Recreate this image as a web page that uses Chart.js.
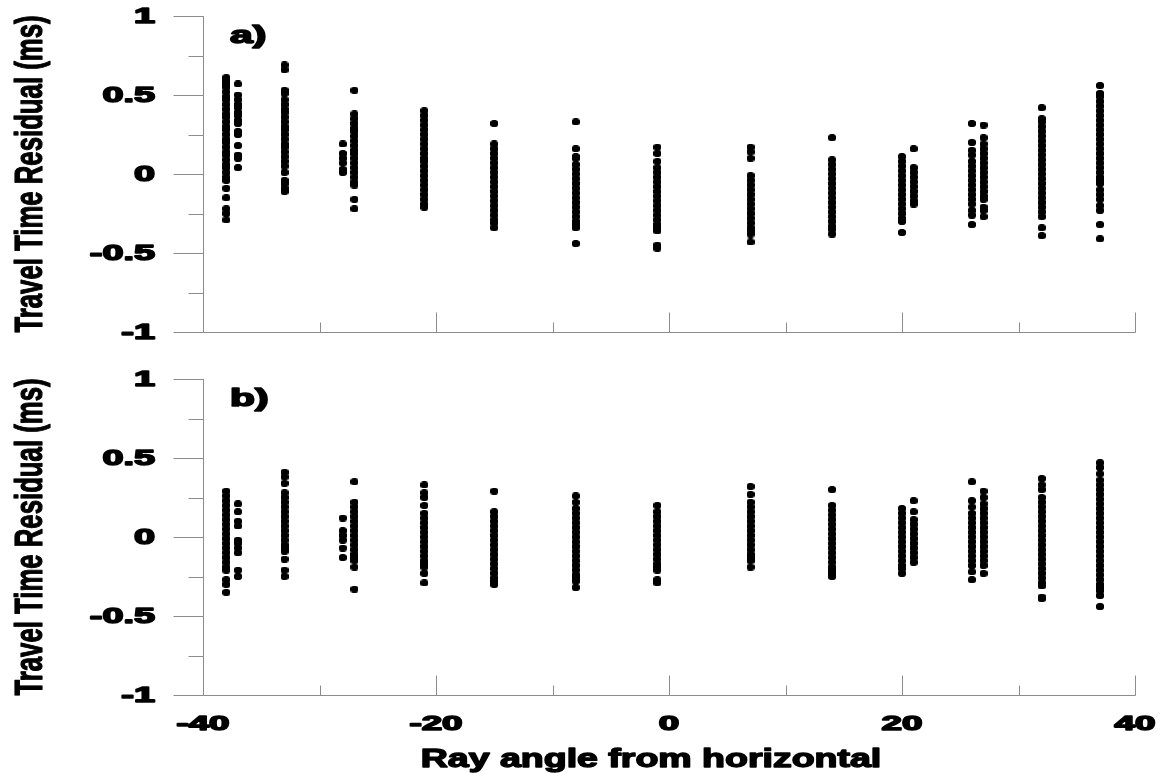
<!DOCTYPE html>
<html>
<head>
<meta charset="utf-8">
<script src="https://cdn.jsdelivr.net/npm/chart.js@4.4.1/dist/chart.umd.min.js"></script>
<style>
  body { margin: 0; background: #fff; }
  #wrap { position: relative; width: 1163px; height: 773px; }
  canvas { position: absolute; left: 0; }
  #panelA { top: 0; }
  #panelB { top: 360px; }
</style>
</head>
<body>
<div id="wrap">
  <canvas id="panelA" width="1163" height="360"></canvas>
  <canvas id="panelB" width="1163" height="413"></canvas>
</div>
<script>
// ray angles (deg) of the receiver columns, same in both panels
const angles = [-38, -37, -33, -28, -27, -21, -15, -8, -1, 7, 14, 20, 21, 26, 27, 32, 37];

// panel a) residuals (ms), one list per angle
const residualsA = [
  [0.61, 0.59, 0.57, 0.55, 0.52, 0.49, 0.47, 0.44, 0.41, 0.38, 0.36, 0.33, 0.30, 0.28, 0.25, 0.22, 0.20, 0.17, 0.14, 0.12, 0.09, 0.06, 0.04, 0.01, -0.02, -0.04, -0.09, -0.15, -0.22, -0.25, -0.29],
  [0.57, 0.50, 0.47, 0.44, 0.42, 0.39, 0.37, 0.34, 0.32, 0.27, 0.25, 0.18, 0.12, 0.10, 0.04],
  [0.69, 0.66, 0.53, 0.51, 0.47, 0.44, 0.41, 0.39, 0.36, 0.33, 0.30, 0.28, 0.25, 0.22, 0.19, 0.17, 0.14, 0.11, 0.08, 0.05, 0.01, -0.04, -0.06, -0.09, -0.11],
  [0.19, 0.13, 0.10, 0.07, 0.03, 0.01],
  [0.53, 0.38, 0.35, 0.32, 0.29, 0.27, 0.24, 0.21, 0.18, 0.15, 0.13, 0.10, 0.07, 0.04, 0.01, -0.02, -0.05, -0.07, -0.16, -0.22],
  [0.40, 0.37, 0.34, 0.31, 0.28, 0.25, 0.22, 0.19, 0.16, 0.13, 0.10, 0.08, 0.05, 0.02, -0.01, -0.04, -0.07, -0.10, -0.13, -0.16, -0.19, -0.21],
  [0.32, 0.19, 0.16, 0.13, 0.10, 0.07, 0.04, 0.01, -0.02, -0.05, -0.08, -0.11, -0.14, -0.17, -0.20, -0.23, -0.26, -0.29, -0.31, -0.34],
  [0.33, 0.16, 0.11, 0.10, 0.06, 0.03, 0.00, -0.03, -0.06, -0.09, -0.12, -0.15, -0.18, -0.21, -0.24, -0.27, -0.30, -0.32, -0.34, -0.44],
  [0.17, 0.13, 0.08, 0.04, 0.01, -0.02, -0.05, -0.08, -0.11, -0.14, -0.17, -0.20, -0.23, -0.26, -0.29, -0.32, -0.34, -0.36, -0.45, -0.47],
  [0.17, 0.14, 0.10, -0.01, -0.04, -0.07, -0.10, -0.13, -0.16, -0.19, -0.22, -0.25, -0.28, -0.31, -0.34, -0.36, -0.38, -0.43],
  [0.23, 0.09, 0.06, 0.03, 0.00, -0.03, -0.06, -0.09, -0.12, -0.15, -0.18, -0.21, -0.24, -0.27, -0.30, -0.33, -0.35, -0.38],
  [0.11, 0.08, 0.05, 0.02, -0.01, -0.04, -0.07, -0.10, -0.13, -0.16, -0.19, -0.22, -0.25, -0.28, -0.30, -0.37],
  [0.16, 0.04, 0.01, -0.02, -0.05, -0.08, -0.11, -0.14, -0.17, -0.19],
  [0.32, 0.20, 0.15, 0.12, 0.08, 0.05, 0.02, -0.01, -0.04, -0.07, -0.10, -0.13, -0.16, -0.19, -0.23, -0.26, -0.32],
  [0.31, 0.23, 0.19, 0.16, 0.13, 0.10, 0.07, 0.04, 0.01, -0.02, -0.05, -0.08, -0.11, -0.14, -0.16, -0.21, -0.23, -0.27],
  [0.42, 0.35, 0.33, 0.30, 0.27, 0.24, 0.21, 0.18, 0.15, 0.12, 0.09, 0.06, 0.03, 0.00, -0.03, -0.06, -0.09, -0.12, -0.15, -0.18, -0.21, -0.24, -0.27, -0.34, -0.39],
  [0.56, 0.51, 0.49, 0.46, 0.43, 0.40, 0.37, 0.34, 0.31, 0.28, 0.25, 0.22, 0.19, 0.16, 0.13, 0.10, 0.07, 0.04, 0.01, -0.02, -0.04, -0.06, -0.10, -0.13, -0.16, -0.20, -0.23, -0.32, -0.41],
];

// panel b) residuals (ms)
const residualsB = [
  [0.29, 0.26, 0.23, 0.20, 0.17, 0.14, 0.11, 0.08, 0.05, 0.02, -0.01, -0.04, -0.07, -0.10, -0.13, -0.16, -0.19, -0.21, -0.27, -0.30, -0.35],
  [0.21, 0.16, 0.10, 0.07, -0.02, -0.04, -0.07, -0.10, -0.21, -0.25],
  [0.41, 0.38, 0.34, 0.28, 0.25, 0.22, 0.19, 0.16, 0.13, 0.10, 0.07, 0.04, 0.01, -0.02, -0.05, -0.07, -0.09, -0.14, -0.21, -0.25],
  [0.12, 0.04, 0.01, -0.02, -0.07, -0.13],
  [0.35, 0.22, 0.19, 0.16, 0.13, 0.10, 0.07, 0.04, 0.01, -0.02, -0.05, -0.08, -0.11, -0.13, -0.15, -0.19, -0.33],
  [0.33, 0.28, 0.25, 0.20, 0.15, 0.12, 0.09, 0.06, 0.03, 0.00, -0.03, -0.06, -0.09, -0.12, -0.15, -0.17, -0.19, -0.23, -0.29],
  [0.29, 0.16, 0.13, 0.10, 0.07, 0.04, 0.01, -0.02, -0.05, -0.08, -0.11, -0.14, -0.17, -0.20, -0.23, -0.26, -0.28, -0.30],
  [0.26, 0.22, 0.18, 0.15, 0.12, 0.09, 0.06, 0.03, 0.00, -0.03, -0.06, -0.09, -0.12, -0.15, -0.18, -0.21, -0.24, -0.26, -0.28, -0.32],
  [0.20, 0.16, 0.13, 0.10, 0.07, 0.04, 0.01, -0.02, -0.05, -0.08, -0.11, -0.14, -0.17, -0.19, -0.21, -0.27, -0.29],
  [0.32, 0.27, 0.22, 0.19, 0.16, 0.13, 0.10, 0.07, 0.04, 0.01, -0.02, -0.05, -0.08, -0.11, -0.13, -0.15, -0.19],
  [0.30, 0.20, 0.17, 0.14, 0.11, 0.08, 0.05, 0.02, -0.01, -0.04, -0.07, -0.10, -0.13, -0.16, -0.19, -0.21, -0.23, -0.25],
  [0.18, 0.15, 0.12, 0.09, 0.06, 0.03, 0.00, -0.03, -0.06, -0.09, -0.12, -0.15, -0.18, -0.20, -0.23],
  [0.23, 0.16, 0.11, 0.08, 0.05, 0.02, -0.01, -0.04, -0.07, -0.10, -0.13, -0.16],
  [0.35, 0.23, 0.19, 0.15, 0.12, 0.09, 0.06, 0.03, 0.00, -0.03, -0.06, -0.09, -0.12, -0.15, -0.18, -0.22, -0.27],
  [0.29, 0.25, 0.21, 0.18, 0.15, 0.12, 0.09, 0.06, 0.03, 0.00, -0.03, -0.06, -0.09, -0.12, -0.15, -0.18, -0.23],
  [0.37, 0.33, 0.30, 0.25, 0.22, 0.19, 0.16, 0.13, 0.10, 0.07, 0.04, 0.01, -0.02, -0.05, -0.08, -0.11, -0.14, -0.17, -0.20, -0.23, -0.26, -0.29, -0.31, -0.38, -0.39],
  [0.47, 0.44, 0.40, 0.36, 0.33, 0.30, 0.27, 0.24, 0.21, 0.18, 0.15, 0.12, 0.09, 0.06, 0.03, 0.00, -0.03, -0.06, -0.09, -0.12, -0.15, -0.18, -0.21, -0.24, -0.27, -0.30, -0.32, -0.34, -0.37, -0.44],
];

// axis ticks
const yMajorTicks = [-1, -0.5, 0, 0.5, 1];
const yTickLabels = ["-1", "-0.5", "0", "0.5", "1"];
const yMinorTicks = [-0.75, -0.25, 0.25, 0.75];
const xMajorTicks = [-40, -20, 0, 20, 40];
const xTickLabels = ["-40", "-20", "0", "20", "40"];
const xMinorTicks = [-30, -10, 10, 30];

const FONT = "'Liberation Sans', Arial, sans-serif";
const AXIS_COLOR = "#8c8c8c";

// elliptical marker, a bit wider than tall like the original
const dot = document.createElement("canvas");
dot.width = 8;
dot.height = 7;
const dctx = dot.getContext("2d");
dctx.fillStyle = "#000";
dctx.beginPath();
dctx.ellipse(4, 3.5, 4.2, 3.6, 0, 0, Math.PI * 2);
dctx.fill();

// text in the original is stretched horizontally and very heavy,
// so scale it by hand and thicken it with a stroke
function stretchText(ctx, text, x, y, size, sx, align, angle, weight) {
  ctx.save();
  ctx.translate(x, y);
  if (angle) ctx.rotate(angle);
  ctx.scale(sx, 1);
  ctx.font = "bold " + size + "px " + FONT;
  ctx.textAlign = align;
  ctx.textBaseline = "alphabetic";
  ctx.fillStyle = "#000";
  ctx.strokeStyle = "#000";
  ctx.lineJoin = "round";
  ctx.lineWidth = weight || 1.4;
  ctx.fillText(text, 0, 0);
  ctx.strokeText(text, 0, 0);
  ctx.restore();
}

const axesDecor = {
  id: "axesDecor",
  beforeDatasetsDraw(chart, args, opts) {
    const ctx = chart.ctx;
    const xs = chart.scales.x;
    const ys = chart.scales.y;
    const area = chart.chartArea;
    const L = Math.round(area.left) + 0.5;
    const B = Math.round(area.bottom) + 0.5;

    ctx.save();
    ctx.strokeStyle = AXIS_COLOR;
    ctx.lineWidth = 1;
    ctx.beginPath();
    // axes
    ctx.moveTo(L, Math.round(area.top));
    ctx.lineTo(L, B);
    ctx.lineTo(Math.round(area.right) + 0.5, B);
    // y ticks, outside
    yMajorTicks.forEach((v) => {
      const p = Math.round(ys.getPixelForValue(v)) + 0.5;
      ctx.moveTo(L - 30, p);
      ctx.lineTo(L, p);
    });
    yMinorTicks.forEach((v) => {
      const p = Math.round(ys.getPixelForValue(v)) + 0.5;
      ctx.moveTo(L - 15, p);
      ctx.lineTo(L, p);
    });
    // x ticks, pointing up into the plot
    xMajorTicks.forEach((v) => {
      const p = Math.round(xs.getPixelForValue(v)) + 0.5;
      ctx.moveTo(p, B);
      ctx.lineTo(p, B - 20);
    });
    xMinorTicks.forEach((v) => {
      const p = Math.round(xs.getPixelForValue(v)) + 0.5;
      ctx.moveTo(p, B);
      ctx.lineTo(p, B - 10);
    });
    ctx.stroke();
    ctx.restore();

    yMajorTicks.forEach((v, i) => {
      stretchText(ctx, yTickLabels[i], 155, ys.getPixelForValue(v) + 7, 22, 1.72, "right", 0, 1.6);
    });

    const midY = (area.top + area.bottom) / 2;
    stretchText(ctx, "Travel Time Residual (ms)", 42, midY, 39, 0.66, "center", -Math.PI / 2, 1.2);
    stretchText(ctx, opts.letter, 230, area.top + 27, 24, 1.7, "left", 0, 1.6);

    if (opts.xLabels) {
      xMajorTicks.forEach((v, i) => {
        stretchText(ctx, xTickLabels[i], xs.getPixelForValue(v), area.bottom + 35, 21, 1.75, "center", 0, 1.6);
      });
      stretchText(ctx, "Ray angle from horizontal", 651, area.bottom + 72, 25, 1.5, "center", 0, 1.4);
    }
  },
};

function makePanel(canvasId, residuals, letter, topPad, xHeight, xLabels) {
  const datasets = angles.map((a, i) => ({
    data: residuals[i].map((r) => ({ x: a, y: r })),
    pointStyle: dot,
    pointRadius: 4,
    showLine: false,
  }));

  return new Chart(document.getElementById(canvasId), {
    type: "scatter",
    data: { datasets: datasets },
    options: {
      responsive: false,
      animation: false,
      events: [],
      clip: false,
      layout: {
        autoPadding: false,
        padding: { top: topPad, right: 28, bottom: 0, left: 0 },
      },
      scales: {
        x: {
          type: "linear",
          min: -40,
          max: 40,
          grid: { display: false },
          border: { display: false },
          ticks: { display: false },
          afterFit: (scale) => {
            scale.height = xHeight;
          },
        },
        y: {
          type: "linear",
          min: -1,
          max: 1,
          grid: { display: false },
          border: { display: false },
          ticks: { display: false },
          afterFit: (scale) => {
            scale.width = 203;
          },
        },
      },
      plugins: {
        legend: { display: false },
        tooltip: { enabled: false },
        title: { display: false },
        axesDecor: { letter: letter, xLabels: xLabels },
      },
    },
    plugins: [axesDecor],
  });
}

makePanel("panelA", residualsA, "a)", 16, 28, false);
makePanel("panelB", residualsB, "b)", 19, 78, true);
</script>
</body>
</html>
